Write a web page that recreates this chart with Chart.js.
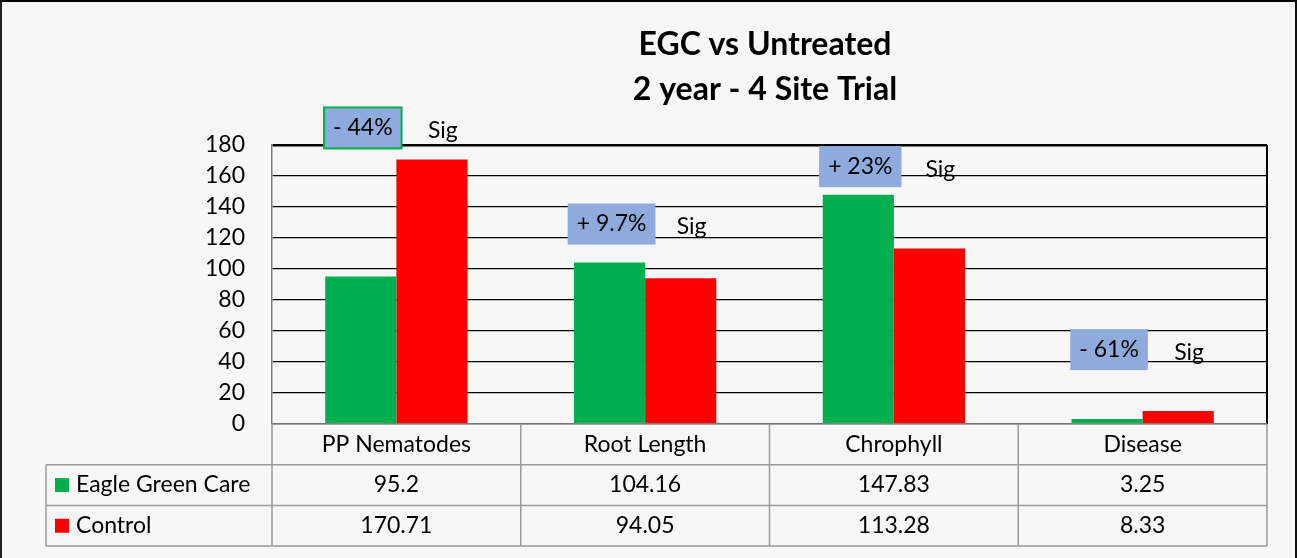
<!DOCTYPE html>
<html>
<head>
<meta charset="utf-8">
<script src="https://cdn.jsdelivr.net/npm/chart.js@4"></script>
<style>
  html, body { margin: 0; padding: 0; background: #f7f7f7; }
  #wrap { position: relative; width: 1297px; height: 558px; box-sizing: border-box;
          border-top: 2px solid #000; border-left: 2px solid #222; border-right: 2px solid #111; }
  canvas { display: block; }
</style>
</head>
<body>
<div id="wrap"><canvas id="egcChart" width="1293" height="556"></canvas></div>
<script>
// chart data
const categories = ['PP Nematodes', 'Root Length', 'Chrophyll', 'Disease'];
const seriesNames = ['Eagle Green Care', 'Control'];
const eagleGreenCare = [95.2, 104.16, 147.83, 3.25];
const control = [170.71, 94.05, 113.28, 8.33];
const yTicks = [0, 20, 40, 60, 80, 100, 120, 140, 160, 180];
const changeLabels = ['- 44%', '+ 9.7%', '+ 23%', '- 61%'];
const sigLabels = ['Sig', 'Sig', 'Sig', 'Sig'];
const titleLines = ['EGC vs Untreated', '2 year - 4 Site Trial'];

const GREEN = '#00b050';
const RED = '#ff0000';
const FONT = 'Lato, "Open Sans", sans-serif';

// where the % boxes sit (value on the y axis)
const noteLevels = [191, 129, 166, 48];

const overlay = {
    id: 'overlay',
    afterDraw(chart) {
        const ctx = chart.ctx;
        const area = chart.chartArea;
        const x = chart.scales.x;
        const y = chart.scales.y;
        const greenMeta = chart.getDatasetMeta(0);

        ctx.save();

        // title
        ctx.fillStyle = '#000';
        ctx.font = 'bold 32px ' + FONT;
        ctx.textAlign = 'center';
        ctx.textBaseline = 'middle';
        ctx.fillText(titleLines[0], 763, 43);
        ctx.fillText(titleLines[1], 763, 88);

        // right border of plot
        ctx.strokeStyle = '#000';
        ctx.lineWidth = 2;
        ctx.beginPath();
        ctx.moveTo(area.right, area.top);
        ctx.lineTo(area.right, area.bottom);
        ctx.stroke();

        // data table
        const rowH = 40.7;
        const top = area.bottom;
        const colW = (area.right - area.left) / categories.length;
        const tableLeft = 44;
        ctx.strokeStyle = '#9a9a9a';
        ctx.lineWidth = 1.5;
        ctx.beginPath();
        ctx.moveTo(area.left, top); ctx.lineTo(area.right, top);
        for (let r = 1; r <= 3; r++) {
            ctx.moveTo(tableLeft, top + rowH * r); ctx.lineTo(area.right, top + rowH * r);
        }
        ctx.moveTo(tableLeft, top + rowH); ctx.lineTo(tableLeft, top + rowH * 3);
        for (let c = 0; c <= categories.length; c++) {
            const cx = area.left + colW * c;
            ctx.moveTo(cx, top); ctx.lineTo(cx, top + rowH * 3);
        }
        ctx.stroke();

        ctx.fillStyle = '#000';
        ctx.font = '23px ' + FONT;
        ctx.textAlign = 'center';
        ctx.textBaseline = 'middle';
        const rows = [eagleGreenCare, control];
        categories.forEach((cat, i) => {
            const cx = x.getPixelForValue(i);
            ctx.fillText(cat, cx, top + rowH * 0.5);
            rows.forEach((vals, r) => {
                ctx.fillText(String(vals[i]), cx, top + rowH * (r + 1.5));
            });
        });

        // legend keys in the table
        ctx.textAlign = 'left';
        [GREEN, RED].forEach((col, r) => {
            const cy = top + rowH * (r + 1.5);
            ctx.fillStyle = col;
            ctx.fillRect(53, cy - 7, 14, 14);
            ctx.fillStyle = '#000';
            ctx.fillText(seriesNames[r], 74, cy);
        });

        // change boxes + Sig
        ctx.font = '23px ' + FONT;
        changeLabels.forEach((txt, i) => {
            const bar = greenMeta.data[i];
            const cx = bar.x + 2;
            const cy = y.getPixelForValue(noteLevels[i]);
            const w = ctx.measureText(txt).width + 18;
            const h = 41;
            ctx.fillStyle = '#8faadc';
            ctx.fillRect(cx - w / 2, cy - h / 2, w, h);
            if (i === 0) {
                ctx.strokeStyle = GREEN;
                ctx.lineWidth = 2;
                ctx.strokeRect(cx - w / 2, cy - h / 2, w, h);
            }
            ctx.fillStyle = '#000';
            ctx.textAlign = 'center';
            ctx.fillText(txt, cx, cy);
            ctx.fillText(sigLabels[i], cx + 80, cy + 3);
        });

        ctx.restore();
    }
};

new Chart(document.getElementById('egcChart'), {
    type: 'bar',
    data: {
        labels: categories,
        datasets: [
            {
                label: seriesNames[0],
                data: eagleGreenCare,
                backgroundColor: GREEN,
                categoryPercentage: 0.572,
                barPercentage: 1
            },
            {
                label: seriesNames[1],
                data: control,
                backgroundColor: RED,
                categoryPercentage: 0.572,
                barPercentage: 1
            }
        ]
    },
    options: {
        responsive: false,
        animation: false,
        layout: {
            padding: { left: 170, right: 28, top: 143, bottom: 134 }
        },
        scales: {
            x: {
                display: false
            },
            y: {
                min: 0,
                max: 180,
                afterFit: (scale) => { scale.width = 100; },
                afterBuildTicks: (scale) => { scale.ticks = yTicks.map(v => ({ value: v })); },
                border: { display: true, color: '#808080', width: 1.5 },
                grid: {
                    drawTicks: false,
                    color: '#000',
                    lineWidth: (c) => (c.tick && c.tick.value === 180 ? 2.5 : 1.2)
                },
                ticks: {
                    autoSkip: false,
                    padding: 27,
                    color: '#000',
                    font: { family: FONT, size: 23 }
                }
            }
        },
        plugins: {
            legend: { display: false },
            tooltip: { enabled: false }
        }
    },
    plugins: [overlay]
});
</script>
</body>
</html>
